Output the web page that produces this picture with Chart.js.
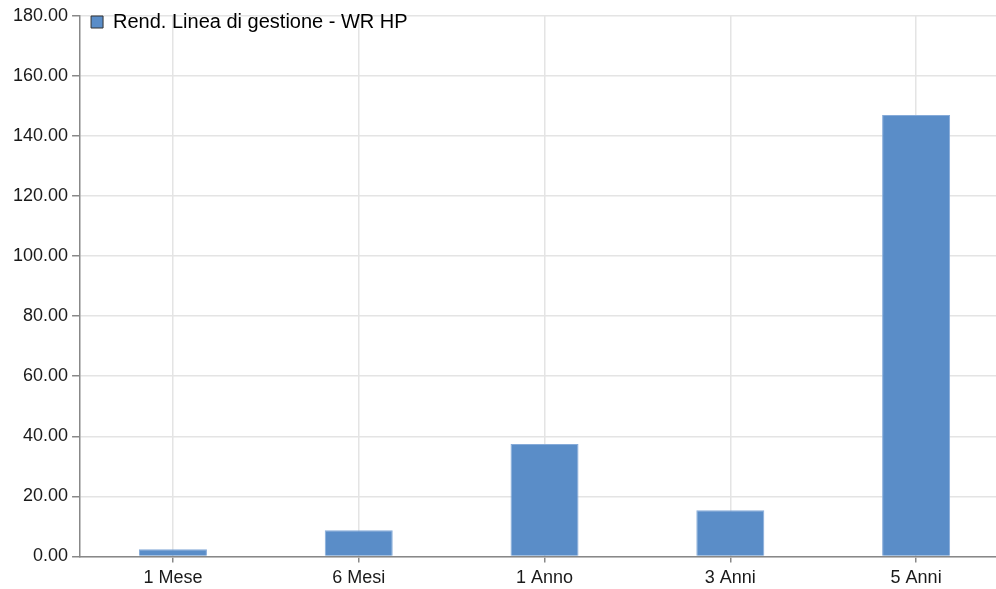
<!DOCTYPE html>
<html>
<head>
<meta charset="utf-8">
<script src="https://cdn.jsdelivr.net/npm/chart.js@4"></script>
<style>
html,body{margin:0;padding:0;background:#fff;overflow:hidden;width:996px;height:589px;}
#c{position:absolute;left:0;top:1px;width:1010px;height:593px;}
</style>
</head>
<body>
<canvas id="c" width="1010" height="593"></canvas>
<script>
const categories = ["1 Mese", "6 Mesi", "1 Anno", "3 Anni", "5 Anni"];
const seriesName = "Rend. Linea di gestione - WR HP";
const seriesValues = [2.4, 8.7, 37.4, 15.4, 147.0];
const yMin = 0, yMax = 180, yStep = 20;

Chart.defaults.font.family = "'Liberation Sans', Arial, Helvetica, sans-serif";
Chart.defaults.font.size = 18;
Chart.defaults.color = "#1a1a1a";

new Chart(document.getElementById("c"), {
  type: "bar",
  data: {
    labels: categories,
    datasets: [{
      label: seriesName,
      data: seriesValues,
      backgroundColor: "#5a8dc8",
      borderColor: "#86abd9",
      borderWidth: 1,
      categoryPercentage: 1.0,
      barPercentage: 0.366
    }]
  },
  options: {
    responsive: false,
    maintainAspectRatio: false,
    devicePixelRatio: 1,
    animation: false,
    layout: { padding: { left: 9, top: 7, right: 1, bottom: 0 } },
    plugins: {
      tooltip: { enabled: false },
      legend: {
        position: "chartArea",
        align: "start",
        labels: {
          boxWidth: 12,
          boxHeight: 12,
          padding: 11,
          color: "#1a1a1a",
          font: { size: 20 },
          generateLabels: (chart) => [{
            text: seriesName,
            fillStyle: "#5a8dc8",
            strokeStyle: "#333",
            lineWidth: 1,
            datasetIndex: 0
          }]
        }
      }
    },
    scales: {
      x: {
        offset: true,
        grid: {
          offset: false,
          color: "#e4e4e4",
          lineWidth: 1.5,
          tickColor: "#888",
          tickLength: 6,
          drawOnChartArea: true
        },
        border: { color: "#888", width: 1.5 },
        ticks: { color: "#1a1a1a", padding: 5, font: { size: 18 } }
      },
      y: {
        min: yMin,
        max: yMax,
        ticks: {
          stepSize: yStep,
          color: "#1a1a1a",
          padding: 4,
          font: { size: 18 },
          callback: (v) => Number(v).toFixed(2)
        },
        grid: {
          color: "#e4e4e4",
          lineWidth: 1.5,
          tickColor: "#888",
          tickLength: 8
        },
        border: { color: "#888", width: 1.5 }
      }
    }
  }
});
</script>
</body>
</html>
